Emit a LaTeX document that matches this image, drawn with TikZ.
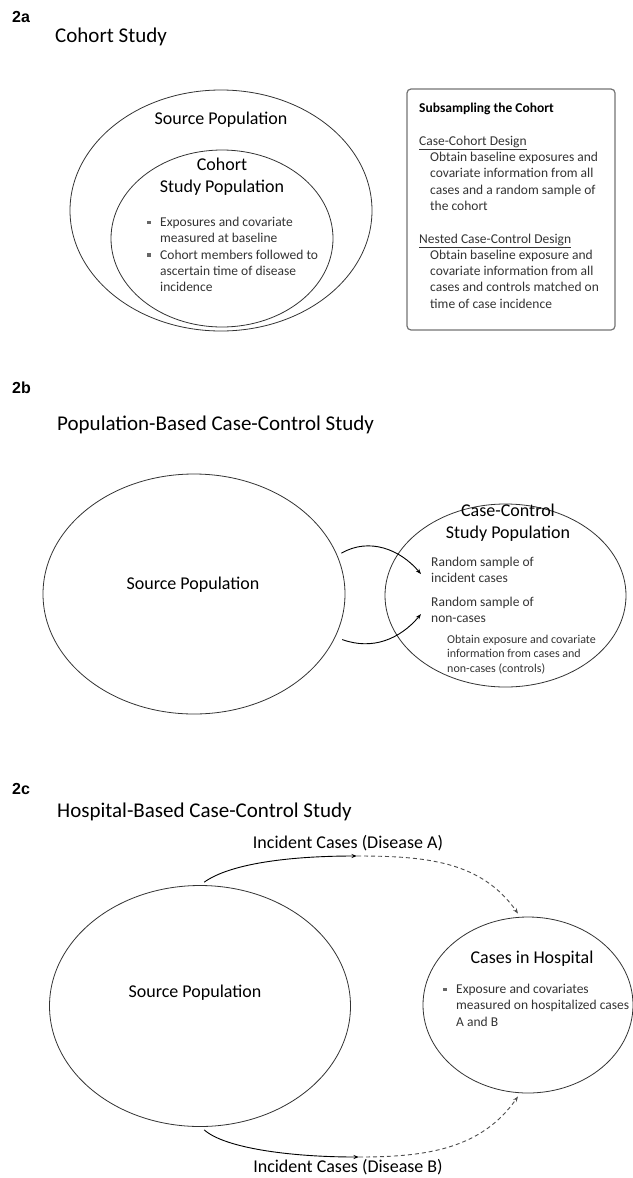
\documentclass[tikz,border=0pt]{standalone}
\usepackage{fontspec}
\setmainfont{Carlito}
\newfontfamily\labfont{Liberation Sans}
\usetikzlibrary{shapes,arrows.meta,positioning}
\newcommand{\bsq}{\makebox[13pt][l]{\textcolor{black!60}{\rule[2.5pt]{3.5pt}{3.5pt}}}}

\begin{document}
\begin{tikzpicture}[x=1pt,y=1pt]
\tikzstyle{pop}=[draw=black!80,ellipse,line width=0.8pt,inner sep=0pt]
\tikzstyle{fig}=[anchor=west,inner sep=0pt,font=\labfont\bfseries\fontsize{16}{19}\selectfont]
\tikzstyle{ttl}=[anchor=west,inner sep=0pt,font=\fontsize{21}{25}\selectfont]
\tikzstyle{big}=[inner sep=0pt,align=center,font=\fontsize{18}{22}\selectfont]
\tikzstyle{txt}=[inner sep=0pt,anchor=north west,align=left,text=black!80,font=\fontsize{13.5}{16.3}\selectfont]
\tikzstyle{sml}=[inner sep=0pt,anchor=north west,align=left,text=black!80,font=\fontsize{12}{14.5}\selectfont]
\tikzstyle{arr}=[-{Stealth[length=5.5pt,width=4pt]},line width=0.9pt]
\tikzstyle{dsh}=[arr,draw=black!70,dash pattern=on 4pt off 3pt,shorten >=4pt]
\useasboundingbox (0,0) rectangle (632,-1178);

\node[fig] (la) at (12,-17) {2a};
\node[ttl] (ta) at (55,-37) {Cohort Study};
\node[pop,minimum width=302pt,minimum height=241pt] (srcA) at (221,-210.5) {};
\node[pop,minimum width=222pt,minimum height=177pt] (cohA) at (222,-238.5) {};
\node[big] (sa) at (221,-120) {Source Population};
\node[big] (ca) at (222,-176.5) {Cohort\\Study Population};
\node[txt] (ba) at (147,-217) {\bsq Exposures and covariate\\
\hspace*{13pt}measured at baseline\\
\bsq Cohort members followed to\\
\hspace*{13pt}ascertain time of disease\\
\hspace*{13pt}incidence};
\node[draw=black!55,line width=1.2pt,rounded corners=4pt,minimum width=208pt,minimum height=241pt] (box) at (511,-209.5) {};
\node[txt] (sub) at (419,-103) {\textcolor{black}{\textbf{Subsampling the Cohort}}\\[16.3pt]
\underline{Case-Cohort Design}\\
\hspace*{11pt}Obtain baseline exposures and\\
\hspace*{11pt}covariate information from all\\
\hspace*{11pt}cases and a random sample of\\
\hspace*{11pt}the cohort\\[16.3pt]
\underline{Nested Case-Control Design}\\
\hspace*{11pt}Obtain baseline exposure and\\
\hspace*{11pt}covariate information from all\\
\hspace*{11pt}cases and controls matched on\\
\hspace*{11pt}time of case incidence};

\node[fig] (lb) at (12,-388) {2b};
\node[ttl] (tb) at (57,-425) {Population-Based Case-Control Study};
\node[pop,minimum width=302pt,minimum height=240pt] (srcB) at (194,-594) {};
\node[pop,minimum width=241pt,minimum height=183pt] (ccB) at (505.5,-595.5) {};
\node[big] (sb) at (193,-585) {Source Population};
\node[big] (cb) at (508,-522.5) {Case-Control\\Study Population};
\node[txt] (inc) at (431,-557) {Random sample of\\incident cases};
\node[txt] (non) at (431,-597) {Random sample of\\non-cases};
\node[sml] (obt) at (447,-634.5) {Obtain exposure and covariate\\information from cases and\\non-cases (controls)};
\draw[arr] ([xshift=5pt]srcB.16) to[out=30,in=130] ([shift={(-10pt,-4pt)}]inc.west);
\draw[arr] ([xshift=8pt]srcB.-18) to[out=-20,in=-130] ([shift={(-10pt,-4pt)}]non.west);

\node[fig] (lc) at (12,-789) {2c};
\node[ttl] (tc) at (57,-812) {Hospital-Based Case-Control Study};
\node[pop,minimum width=301pt,minimum height=241pt] (srcC) at (200,-1006) {};
\node[pop,minimum width=210pt,minimum height=176pt] (hosp) at (528,-1005) {};
\node[big] (ia) at (348,-843) {Incident Cases (Disease A)};
\coordinate (ja) at (357,-856);
\node[big] (sc) at (195,-993) {Source Population};
\node[big] (ch) at (532,-959) {Cases in Hospital};
\node[txt] (bc) at (443,-984) {\bsq Exposure and covariates\\
\hspace*{13pt}measured on hospitalized cases\\
\hspace*{13pt}A and B};
\node[big] (ib) at (348,-1167) {Incident Cases (Disease B)};
\coordinate (jb) at (359,-1157);
\draw[arr] ([yshift=3pt]srcC.88) .. controls +(25,18) and +(-70,0) .. (ja);
\draw[dsh] (ja) to[out=0,in=125] (hosp.95);
\draw[arr] ([yshift=-3pt]srcC.272) .. controls +(20,-18) and +(-70,0) .. (jb);
\draw[dsh] (jb) to[out=0,in=-125] (hosp.265);
\end{tikzpicture}
\end{document}
